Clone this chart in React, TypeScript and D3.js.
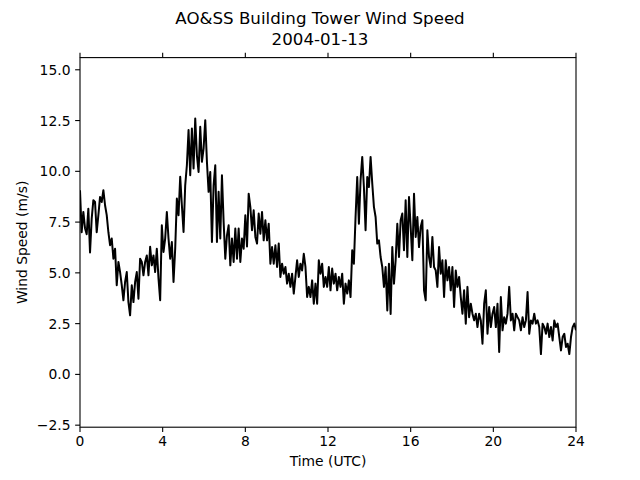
import React from "react";
import * as d3 from "d3";

const title1 = "AO&SS Building Tower Wind Speed";
const title2 = "2004-01-13";
const xLabel = "Time (UTC)";
const yLabel = "Wind Speed (m/s)";
const xTicks = [0, 4, 8, 12, 16, 20, 24];
const yTicks = [-2.5, 0, 2.5, 5, 7.5, 10, 12.5, 15];
const yDomain = [-2.6, 15.6];
const xDomain = [0, 24];

// wind speed (m/s), evenly spaced over 0-24 UTC
const speedEarly = [
  9.07, 7.0, 8.0, 7.2, 6.9, 8.16, 6.0, 7.67, 8.58, 8.49, 7.0, 7.84, 8.74, 8.49, 9.07, 8.33, 7.84, 7.0, 6.36, 6.69,
  5.7, 6.19, 4.39, 5.54, 5.04, 4.39, 3.65, 4.55, 5.04, 3.56, 2.91, 4.39, 3.56, 4.55, 5.04, 3.73, 5.7, 5.54, 4.88, 5.54,
  5.86, 4.88, 6.28, 5.37, 5.86, 5.04, 6.19, 4.72, 3.65, 7.34, 6.03, 6.69, 8.0, 6.69, 5.7, 6.52, 4.55, 6.19, 8.66, 7.84,
  9.73, 8.33, 7.01, 9.31, 10.3, 12.03, 9.81, 12.11, 10.14, 12.6, 10.79, 9.97, 12.19, 10.47, 11.12, 12.52, 10.47, 8.99, 9.97, 6.52,
  9.31, 10.3, 6.52, 8.99, 6.69, 9.81, 7.51, 5.7, 6.85, 7.34, 5.37, 6.69, 5.54, 7.18, 5.7, 7.18, 5.54, 6.69, 6.19, 7.84,
];
const speedMid = [
  6.3, 8.9, 8.25, 7.1, 8.08, 6.77, 6.44, 7.92, 6.93, 8.0, 6.6, 7.59, 6.6, 7.42, 5.45, 6.27, 5.45, 6.36, 5.29, 6.44,
  4.8, 5.45, 4.96, 5.29, 4.47, 4.96, 4.31, 4.96, 3.98, 4.8, 5.62, 4.8, 5.45, 5.12, 5.94, 5.29, 3.81, 4.31, 3.81, 4.63,
  3.48, 4.47, 3.48, 5.62, 4.96, 5.45, 4.31, 4.8, 4.31, 5.29, 4.14, 5.21, 4.47, 4.96, 4.14, 4.8, 4.31, 4.96, 3.48, 4.47,
  3.98, 4.63, 3.81, 6.11, 5.45, 7.75, 9.72, 7.42, 9.56, 10.71, 9.23, 7.1, 9.72, 9.23, 10.71, 9.4, 8.25, 7.75, 6.44, 6.6,
  5.78, 5.29, 4.31, 5.29, 3.15, 5.45, 2.98, 6.27, 4.47, 5.62, 7.42, 5.78, 7.59, 7.92, 6.11, 8.58, 5.78, 8.74, 7.26, 5.62,
  8.9,
];
const speedLate = [
  6.77, 7.75, 6.27, 7.26, 7.59, 4.14, 3.65, 7.1, 5.78, 5.29, 6.77, 5.29, 5.12, 4.31, 6.27, 4.96, 5.62, 3.81, 5.62, 4.63,
  5.29, 4.14, 5.29, 3.32, 5.12, 4.31, 4.8, 3.81, 2.99, 4.14, 2.5, 4.31, 2.82, 3.48, 2.99, 2.66, 2.99, 2.33, 2.99, 2.66,
  1.51, 3.48, 4.14, 2.0, 3.32, 2.33, 2.99, 3.32, 2.33, 3.48, 1.1, 3.81, 2.17, 2.82, 2.5, 2.99, 4.31, 2.66, 2.99, 2.17,
  2.99, 2.82, 2.66, 2.17, 2.82, 2.33, 2.66, 4.06, 2.0, 2.66, 2.5, 2.99, 2.5, 2.66, 2.33, 1.0, 2.5, 2.33, 2.0, 2.5,
  1.84, 2.33, 1.67, 2.66, 2.33, 2.5, 1.84, 1.18, 1.84, 2.0, 1.35, 1.51, 1.0, 1.84, 2.33, 2.5, 2.17,
];

const speeds = [...speedEarly, ...speedMid, ...speedLate];

const W = 640;
const H = 480;
const M = { left: 80, right: 576, top: 57.6, bottom: 427.2 };
const FONT = "DejaVu Sans, sans-serif";

export default function App() {
  const x = d3.scaleLinear().domain(xDomain).range([M.left, M.right]);
  const y = d3.scaleLinear().domain(yDomain).range([M.bottom, M.top]);
  const n = speeds.length;
  const pts: [number, number][] = speeds.map((v, i) => [(i * 24) / (n - 1), v]);
  const line = d3
    .line<[number, number]>()
    .x((d) => x(d[0]))
    .y((d) => y(d[1]));
  const tl = 4.86;

  return (
    <svg
      width={W}
      height={H}
      style={{ position: "absolute", left: 0, top: 0, background: "#fff" }}
      fontFamily={FONT}
    >
      <rect x={0} y={0} width={W} height={H} fill="#fff" />
      <text x={320} y={24} textAnchor="middle" fontSize={16.67} fill="#000">
        {title1}
      </text>
      <text x={320} y={44.5} textAnchor="middle" fontSize={16.67} fill="#000">
        {title2}
      </text>
      <defs>
        <clipPath id="plotclip">
          <rect x={M.left} y={M.top} width={M.right - M.left} height={M.bottom - M.top} />
        </clipPath>
      </defs>
      <path
        d={line(pts) || ""}
        fill="none"
        stroke="#000"
        strokeWidth={2}
        strokeLinejoin="round"
        clipPath="url(#plotclip)"
      />
      <rect
        x={M.left}
        y={M.top}
        width={M.right - M.left}
        height={M.bottom - M.top}
        fill="none"
        stroke="#000"
        strokeWidth={1.1}
      />
      {xTicks.map((t) => (
        <g key={"x" + t}>
          <line x1={x(t)} x2={x(t)} y1={M.bottom} y2={M.bottom + tl} stroke="#000" strokeWidth={1.1} />
          <line x1={x(t)} x2={x(t)} y1={M.top} y2={M.top - tl} stroke="#000" strokeWidth={1.1} />
          <text x={x(t)} y={446} textAnchor="middle" fontSize={13.89} fill="#000">
            {String(t)}
          </text>
        </g>
      ))}
      {yTicks.map((t) => (
        <g key={"y" + t}>
          <line x1={M.left - tl} x2={M.left} y1={y(t)} y2={y(t)} stroke="#000" strokeWidth={1.1} />
          <text x={70.5} y={y(t) + 5} textAnchor="end" fontSize={13.89} fill="#000">
            {t < 0 ? "\u2212" + Math.abs(t).toFixed(1) : t.toFixed(1)}
          </text>
        </g>
      ))}
      <text x={328} y={466} textAnchor="middle" fontSize={13.89} fill="#000">
        {xLabel}
      </text>
      <text
        x={0}
        y={0}
        transform={`translate(27,${(M.top + M.bottom) / 2}) rotate(-90)`}
        textAnchor="middle"
        fontSize={13.89}
        fill="#000"
      >
        {yLabel}
      </text>
    </svg>
  );
}
